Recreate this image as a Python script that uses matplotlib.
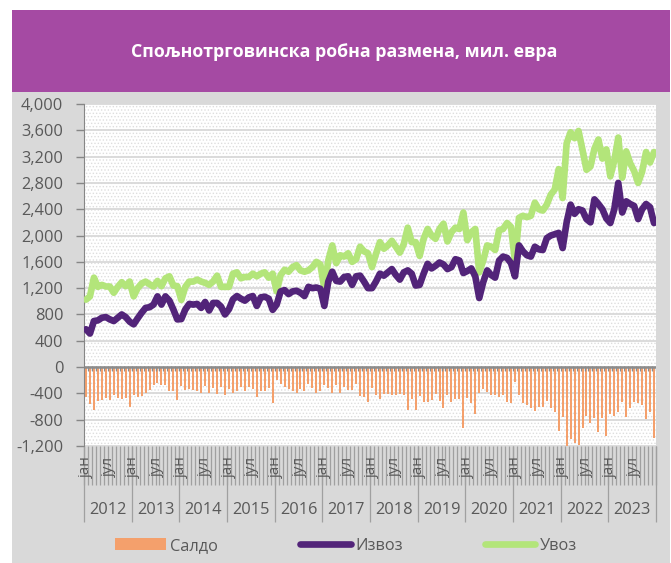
import numpy as np
import matplotlib
matplotlib.use('Agg')
import matplotlib.pyplot as plt
from matplotlib.patches import Rectangle, Patch
from matplotlib.lines import Line2D

plt.rcParams['font.family'] = ['Open Sans', 'DejaVu Sans']
plt.rcParams['hatch.linewidth'] = 0.6

# monthly data, Jan 2012 .. Dec 2023 (mil. EUR), 12 values per row
izvoz = [
    575, 510, 700, 710, 750, 760, 725, 700, 750, 800, 760, 690,
    650, 740, 825, 900, 910, 950, 1075, 950, 1075, 1010, 875, 725,
    730, 875, 960, 950, 960, 900, 990, 860, 975, 975, 920, 800,
    880, 1030, 1080, 1040, 1010, 1060, 1080, 930, 1060, 1070, 1040, 870,
    950, 1150, 1170, 1110, 1150, 1160, 1130, 1080, 1220, 1200, 1210, 1190,
    930, 1300, 1450, 1310, 1300, 1370, 1380, 1250, 1380, 1390, 1300, 1200,
    1200, 1300, 1420, 1390, 1440, 1490, 1400, 1330, 1440, 1470, 1420, 1240,
    1250, 1420, 1570, 1500, 1540, 1590, 1560, 1490, 1520, 1640, 1620, 1430,
    1460, 1500, 1380, 1050, 1290, 1470, 1400, 1360, 1620, 1680, 1660, 1580,
    1380, 1850, 1760, 1700, 1680, 1830, 1790, 1780, 1960, 2000, 2020, 2040,
    1810, 2200, 2470, 2330, 2400, 2380, 2250, 2200, 2550, 2480, 2400, 2260,
    2190, 2400, 2800, 2350, 2520, 2480, 2450, 2250, 2400, 2480, 2430, 2190,
]
uvoz = [
    1025, 1075, 1360, 1220, 1250, 1225, 1225, 1130, 1220, 1290, 1230, 1300,
    1075, 1200, 1270, 1300, 1260, 1225, 1310, 1230, 1350, 1380, 1240, 1230,
    1020, 1220, 1300, 1300, 1330, 1300, 1280, 1250, 1300, 1390, 1220, 1220,
    1220, 1420, 1440, 1350, 1370, 1370, 1420, 1380, 1420, 1440, 1360, 1420,
    1150, 1400, 1480, 1450, 1520, 1550, 1470, 1450, 1470, 1520, 1600, 1560,
    1200, 1620, 1850, 1580, 1700, 1680, 1730, 1600, 1640, 1830, 1760, 1730,
    1520, 1720, 1900, 1800, 1850, 1920, 1830, 1740, 1870, 2120, 1900, 1900,
    1690, 1950, 2100, 2000, 1950, 2100, 2180, 1910, 2050, 2120, 2100, 2350,
    1930, 2050, 2100, 1440, 1620, 1850, 1830, 1780, 2080, 2100, 2190, 2130,
    1600, 2270, 2300, 2280, 2300, 2500, 2400, 2380, 2470, 2620, 2700, 3010,
    2570, 3400, 3570, 3480, 3590, 3300, 3000, 3050, 3320, 3460, 3170, 3310,
    2900, 3140, 3490, 2880, 3280, 3100, 2980, 2800, 2970, 3270, 3110, 3270,
]
saldo = [
    -450, -565, -660, -510, -500, -465, -500, -430, -470, -490, -470, -610,
    -425, -460, -445, -400, -350, -275, -235, -280, -275, -370, -365, -505,
    -290, -345, -340, -350, -370, -400, -290, -390, -325, -415, -300, -420,
    -340, -390, -360, -310, -360, -310, -340, -450, -360, -370, -320, -550,
    -200, -250, -310, -340, -370, -390, -340, -370, -250, -320, -390, -370,
    -270, -320, -400, -270, -400, -310, -350, -350, -260, -440, -460, -530,
    -320, -420, -480, -410, -410, -430, -430, -410, -430, -650, -480, -660,
    -440, -530, -530, -500, -410, -510, -620, -420, -530, -480, -480, -920,
    -470, -550, -720, -390, -330, -380, -430, -420, -460, -420, -530, -550,
    -220, -420, -540, -580, -620, -670, -610, -600, -510, -620, -680, -970,
    -760, -1200, -1100, -1150, -1190, -920, -750, -850, -770, -980, -770, -1050,
    -710, -740, -690, -530, -760, -620, -530, -550, -570, -790, -680, -1080,
]
godine = [str(g) for g in range(2012, 2024)]
mesec_oznake = {0: 'јан', 6: 'јул'}

naslov = 'Спољнотрговинска робна размена, мил. евра'

c_saldo = '#F4A06C'
c_izvoz = '#522479'
c_uvoz = '#B3E57A'
c_tekst = '#595959'

W, H = 671, 563
fig = plt.figure(figsize=(W / 100, H / 100), dpi=100)
fig.patch.set_facecolor('white')

# gray panel and purple banner
fig.add_artist(Rectangle((12 / W, 0), (670 - 12) / W, (H - 92) / H,
                         transform=fig.transFigure, facecolor='#D9D9D9', edgecolor='none', zorder=0))
fig.add_artist(Rectangle((12 / W, 1 - 92 / H), (670 - 12) / W, 82 / H,
                         transform=fig.transFigure, facecolor='#A54AA3', edgecolor='none', zorder=0))
fig.text(344 / W, 1 - 52 / H, naslov, color='white', fontsize=12.8, fontweight='bold',
         ha='center', va='center')

L, R, T, B = 84, 656, 104, 446
ax = fig.add_axes([L / W, 1 - B / H, (R - L) / W, (B - T) / H])
ax.set_facecolor('white')
ax.add_patch(Rectangle((0, 0), 1, 1, transform=ax.transAxes, facecolor='white',
                       hatch='.....', edgecolor='#DEDEDE', lw=0, zorder=0))

n = len(izvoz)
x = np.arange(n)

ax.set_xlim(-0.5, n - 0.5)
ax.set_ylim(-1200, 4000)
yt = np.arange(-1200, 4001, 400)
ax.set_yticks(yt)
ax.set_yticklabels([f'{v:,}' for v in yt], fontsize=11.8, color=c_tekst)
ax.grid(axis='y', color='#D9D9D9', lw=1.3, zorder=1)
ax.set_axisbelow(True)
ax.tick_params(axis='y', length=6, width=1, color='#868686', pad=9)
ax.tick_params(axis='x', bottom=False, labelbottom=False)
for s in ['top', 'right', 'bottom']:
    ax.spines[s].set_visible(False)
ax.spines['left'].set_color('#868686')

ax.bar(x, saldo, width=0.5, color=c_saldo, zorder=2)

# category axis at zero with tick marks
ax.axhline(0, color='#8C8C8C', lw=1.8, zorder=2.5)
ax.vlines(np.arange(n + 1) - 0.5, -60, 15, color='#8C8C8C', lw=0.8, zorder=2.5)

ax.plot(x, izvoz, color=c_izvoz, lw=4.8, solid_joinstyle='round', solid_capstyle='round', zorder=4)
ax.plot(x, uvoz, color=c_uvoz, lw=4.8, solid_joinstyle='round', solid_capstyle='round', zorder=3)

# multi-level category labels below the plot
tr = ax.get_xaxis_transform()
ph = B - T
ax.vlines(np.arange(n + 1) - 0.5, 0, -(485 - B) / ph, transform=tr, color='#A0A0A0',
          lw=0.9, clip_on=False)
ax.vlines(np.arange(0, n + 1, 12) - 0.5, 0, -(522 - B) / ph, transform=tr, color='#A0A0A0',
          lw=0.9, clip_on=False)
for i in range(n):
    if i % 12 in mesec_oznake:
        ax.text(i, -(467 - B) / ph, mesec_oznake[i % 12], transform=tr, rotation=90,
                ha='center', va='center', fontsize=11, color=c_tekst, clip_on=False)
for k, g in enumerate(godine):
    ax.text(k * 12 + 5.5, -(510 - B) / ph, g, transform=tr, ha='center', va='center',
            fontsize=11.8, color=c_tekst, clip_on=False)

handles = [Patch(facecolor=c_saldo, edgecolor='none'),
           Line2D([], [], color=c_izvoz, lw=4.8, solid_capstyle='round'),
           Line2D([], [], color=c_uvoz, lw=4.8, solid_capstyle='round')]
fig.legend(handles, ['Салдо', 'Извоз', 'Увоз'], ncol=3, loc='center',
           bbox_to_anchor=(346 / W, 1 - 546 / H), frameon=False, fontsize=11.8,
           labelcolor=c_tekst, handlelength=3.1, handleheight=0.75, handletextpad=0.25,
           columnspacing=5.0)

fig.savefig('out.png', dpi=100)
